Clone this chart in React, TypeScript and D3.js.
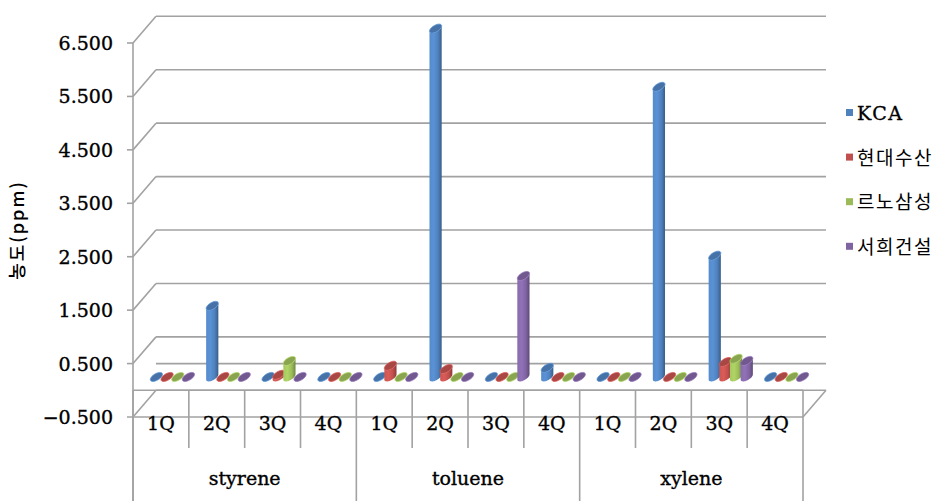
import React from "react";
import * as d3 from "d3";

// Quarterly concentration (ppm) per site, grouped by solvent
const groups = ["styrene", "toluene", "xylene"];
const quarters = ["1Q", "2Q", "3Q", "4Q"];
const seriesNames = ["KCA", "현대수산", "르노삼성", "서희건설"];
const seriesColors = ["#4F81BD", "#C0504D", "#9BBB59", "#8064A2"];

// values ordered styrene 1Q..4Q, toluene 1Q..4Q, xylene 1Q..4Q
const kcaValues = [0, 1.33, 0, 0, 0, 6.52, 0, 0.17, 0, 5.43, 2.27, 0];
const hyundaiValues = [0, 0, 0.04, 0, 0.21, 0.15, 0, 0, 0, 0, 0.28, 0];
const renaultValues = [0, 0, 0.3, 0, 0, 0, 0, 0, 0, 0, 0.34, 0];
const seoheeValues = [0, 0, 0, 0, 0, 0, 1.89, 0, 0, 0, 0.3, 0];

const yTickValues = [-0.5, 0.5, 1.5, 2.5, 3.5, 4.5, 5.5, 6.5];

const W = 942;
const H = 501;
const X0 = 133;
const X1 = 803;
const DX = 23; // oblique depth offset (right)
const DY = 26.7; // oblique depth offset (up)

const yF = d3.scaleLinear().domain([-0.5, 6.5]).range([417, 43]);
const slots = groups.flatMap((g) => quarters.map((q) => `${g}|${q}`));
const xSlot = d3.scaleBand().domain(slots).range([X0, X1]);
const xSeries = d3.scalePoint().domain(seriesNames).range([-16, 16]);

const allSeries = [kcaValues, hyundaiValues, renaultValues, seoheeValues];

const fmt = (v: number) => (v < 0 ? "−" : "") + d3.format(".3f")(Math.abs(v));

// cylinder cross-section in oblique projection
const CR = 5;
const CE = 3.5;
const CF = 4.5;
const pt = (cx: number, cy: number, t: number): [number, number] => [
  cx + CR * Math.cos(t) + CE * Math.sin(t),
  cy - CF * Math.sin(t),
];

function arc(cx: number, cy: number, a: number, b: number, n = 24) {
  return d3.range(n + 1).map((i) => pt(cx, cy, a + ((b - a) * i) / n));
}

const line = d3.line();

function bodyPath(cx: number, yTop: number, yBase: number) {
  const t0 = Math.atan2(CE, CR);
  const base = arc(cx, yBase, t0, t0 - Math.PI);
  const top = arc(cx, yTop, t0 - Math.PI, t0);
  return line([...base, ...top]) + "Z";
}

function topPath(cx: number, yTop: number) {
  return line(arc(cx, yTop, 0, Math.PI * 2, 40)) + "Z";
}

const gl = { stroke: "#a2a2a2", strokeWidth: 1.6, fill: "none" };
const serifText = {
  fontFamily: "DejaVu Serif",
  fontSize: 19,
  fill: "#000",
  stroke: "#000",
  strokeWidth: 0.35,
};

export default function App() {
  const bw = xSlot.bandwidth();
  const baseY = yF(0) - DY / 2;
  const unit = yF(0) - yF(1);

  const lines: JSX.Element[] = [];
  yTickValues.forEach((v, i) => {
    const yf = yF(v);
    const yb = yf - DY;
    if (v < 0) {
      lines.push(<line key={`f${i}`} x1={X0 - 6} x2={X1} y1={yf} y2={yf} {...gl} />);
      lines.push(<line key={`dr${i}`} x1={X1} y1={yf} x2={X1 + DX} y2={yb} {...gl} />);
    } else {
      lines.push(<line key={`f${i}`} x1={X0 - 6} x2={X0} y1={yf} y2={yf} {...gl} />);
    }
    lines.push(<line key={`d${i}`} x1={X0} y1={yf} x2={X0 + DX} y2={yb} {...gl} />);
    lines.push(<line key={`b${i}`} x1={X0 + DX} x2={X1 + DX} y1={yb} y2={yb} {...gl} />);
  });

  // floor at zero
  const yz = yF(0);
  lines.push(<line key="floorF" x1={X0} x2={X1} y1={yz} y2={yz} {...gl} />);
  lines.push(<line key="floorB" x1={X0 + DX} x2={X1 + DX} y1={yz - DY} y2={yz - DY} {...gl} />);

  // category dividers
  for (let i = 0; i <= slots.length; i++) {
    const x = X0 + i * bw;
    const major = i % quarters.length === 0;
    lines.push(<line key={`c${i}`} x1={x} x2={x} y1={yz} y2={major ? H : 448} {...gl} />);
  }
  lines.push(<line key="axisV" x1={X0} x2={X0} y1={yF(6.5)} y2={H} {...gl} />);

  const bars: JSX.Element[] = [];
  slots.forEach((s, k) => {
    const cxSlot = (xSlot(s) as number) + bw / 2 + DX / 2;
    seriesNames.forEach((name, si) => {
      const v = allSeries[si][k];
      const cx = cxSlot + (xSeries(name) as number);
      const yTop = baseY - v * unit;
      const c = seriesColors[si];
      bars.push(
        <g key={`${s}-${si}`}>
          <path d={bodyPath(cx, yTop, baseY)} fill={`url(#grad${si})`} />
          <path
            d={topPath(cx, yTop)}
            fill={d3.color(c)!.darker(0.35).toString()}
            stroke={d3.color(c)!.brighter(0.4).toString()}
            strokeWidth={0.8}
          />
        </g>
      );
    });
  });

  return (
    <svg
      width={W}
      height={H}
      style={{ position: "absolute", left: 0, top: 0, background: "#fff" }}
    >
      <defs>
        {seriesColors.map((c, i) => {
          const col = d3.color(c)!;
          return (
            <linearGradient key={i} id={`grad${i}`} x1="0" x2="1" y1="0" y2="0">
              <stop offset="0%" stopColor={col.brighter(0.2).toString()} />
              <stop offset="35%" stopColor={col.brighter(0.35).toString()} />
              <stop offset="70%" stopColor={c} />
              <stop offset="100%" stopColor={col.darker(0.9).toString()} />
            </linearGradient>
          );
        })}
      </defs>
      <rect width={W} height={H} fill="#fff" />
      {lines}
      {bars}
      {yTickValues.map((v) => (
        <text key={v} x={113} y={yF(v) + 7} textAnchor="end" {...serifText}>
          {fmt(v)}
        </text>
      ))}
      {slots.map((s, k) => (
        <text
          key={s}
          x={(xSlot(s) as number) + bw / 2}
          y={430}
          textAnchor="middle"
          {...serifText}
        >
          {quarters[k % quarters.length]}
        </text>
      ))}
      {groups.map((g, i) => (
        <text
          key={g}
          x={X0 + (i + 0.5) * bw * quarters.length}
          y={485}
          textAnchor="middle"
          {...serifText}
        >
          {g}
        </text>
      ))}
      <text
        transform={`translate(24,230) rotate(-90)`}
        textAnchor="middle"
        fontFamily="Noto Sans CJK KR"
        fontSize={18}
        fontWeight={500}
        letterSpacing={2}
        fill="#000"
      >
        농도(ppm)
      </text>
      {seriesNames.map((n, i) => {
        const cy = 113 + i * 44.6;
        return (
          <g key={n}>
            <rect x={846} y={cy - 4} width={7} height={7} fill={seriesColors[i]} />
            <text
              x={857}
              y={cy + 7}
              fontFamily={i === 0 ? "DejaVu Serif" : "Noto Sans CJK KR"}
              fontSize={19}
              letterSpacing={1.5}
              fill="#000"
              stroke="#000"
              strokeWidth={i === 0 ? 0.35 : 0}
            >
              {n}
            </text>
          </g>
        );
      })}
    </svg>
  );
}
